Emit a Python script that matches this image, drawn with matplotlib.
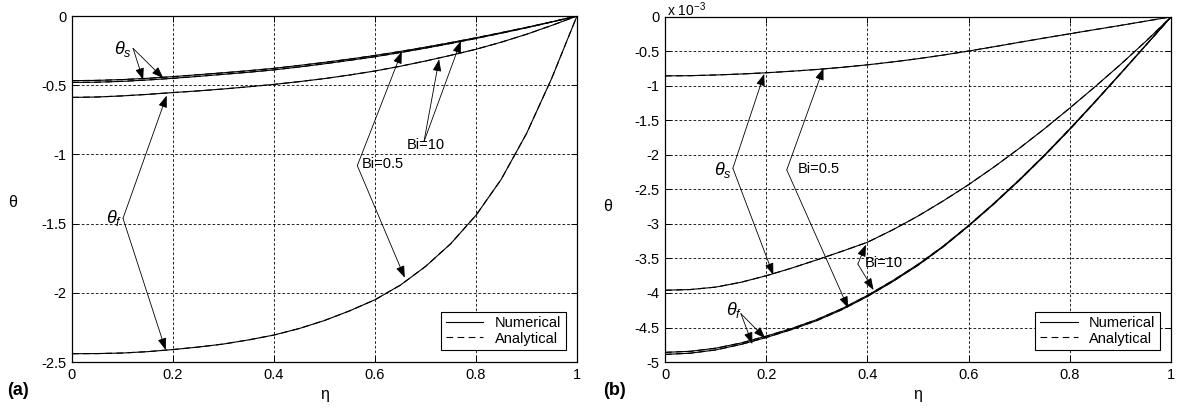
import matplotlib
matplotlib.use('Agg')
import matplotlib.pyplot as plt
from matplotlib.lines import Line2D

plt.rcParams['font.family'] = ['Liberation Sans', 'DejaVu Sans']
plt.rcParams['mathtext.fontset'] = 'custom'
plt.rcParams['mathtext.it'] = 'Liberation Sans:italic'
plt.rcParams['mathtext.rm'] = 'Liberation Sans'

# dimensionless position across the channel
ETA = [0.0, 0.05, 0.1, 0.15, 0.2, 0.25, 0.3, 0.35, 0.4, 0.45, 0.5,
       0.55, 0.6, 0.65, 0.7, 0.75, 0.8, 0.85, 0.9, 0.95, 1.0]

# (a) temperature profiles
A_THETA_S_BI05 = [-0.467, -0.465, -0.459, -0.450, -0.438, -0.424, -0.410,
                  -0.395, -0.378, -0.357, -0.335, -0.311, -0.285, -0.256,
                  -0.225, -0.192, -0.157, -0.120, -0.082, -0.042, 0.0]
A_THETA_S_BI10 = [-0.480, -0.478, -0.472, -0.462, -0.450, -0.436, -0.421,
                  -0.406, -0.389, -0.368, -0.345, -0.320, -0.294, -0.264,
                  -0.232, -0.198, -0.162, -0.124, -0.085, -0.043, 0.0]
A_THETA_F_BI10 = [-0.588, -0.585, -0.577, -0.566, -0.553, -0.541, -0.527,
                  -0.511, -0.494, -0.474, -0.452, -0.426, -0.397, -0.363,
                  -0.325, -0.284, -0.240, -0.189, -0.132, -0.068, 0.0]
A_THETA_F_BI05 = [-2.440, -2.439, -2.435, -2.425, -2.410, -2.392, -2.370,
                  -2.340, -2.305, -2.258, -2.200, -2.130, -2.050, -1.945,
                  -1.810, -1.645, -1.440, -1.180, -0.850, -0.450, 0.0]

# (b) temperature profiles, x 10^-3
B_THETA_S_BI05 = [-0.855, -0.852, -0.842, -0.828, -0.810, -0.788, -0.762,
                  -0.731, -0.695, -0.653, -0.606, -0.553, -0.495, -0.433,
                  -0.369, -0.306, -0.245, -0.184, -0.124, -0.062, 0.0]
B_THETA_S_BI10 = [-3.960, -3.950, -3.915, -3.845, -3.750, -3.640, -3.520,
                  -3.395, -3.265, -3.085, -2.885, -2.665, -2.430, -2.175,
                  -1.905, -1.620, -1.320, -1.010, -0.690, -0.355, 0.0]
B_THETA_F_BI10 = [-4.860, -4.845, -4.800, -4.725, -4.625, -4.515, -4.385,
                  -4.225, -4.035, -3.820, -3.585, -3.320, -3.020, -2.700,
                  -2.360, -2.000, -1.620, -1.225, -0.820, -0.410, 0.0]
B_THETA_F_BI05 = [-4.890, -4.872, -4.825, -4.745, -4.645, -4.530, -4.400,
                  -4.240, -4.050, -3.835, -3.598, -3.330, -3.030, -2.710,
                  -2.370, -2.010, -1.630, -1.232, -0.825, -0.413, 0.0]

X_TICKS = [0, 0.2, 0.4, 0.6, 0.8, 1]
X_TICK_LABELS = ['0', '0.2', '0.4', '0.6', '0.8', '1']
A_Y_TICKS = [0, -0.5, -1, -1.5, -2, -2.5]
A_Y_TICK_LABELS = ['0', '-0.5', '-1', '-1.5', '-2', '-2.5']
B_Y_TICKS = [0, -0.5, -1, -1.5, -2, -2.5, -3, -3.5, -4, -4.5, -5]
B_Y_TICK_LABELS = ['0', '-0.5', '-1', '-1.5', '-2', '-2.5', '-3', '-3.5',
                   '-4', '-4.5', '-5']

GRID_DASH = (0, (3.2, 2.4))
ANALYTICAL_DASH = (0, (6, 4))


def draw_panel(ax, curves, yticks, yticklabels):
    '''
    Numerical (solid) and analytical (dashed) profiles with a dashed grid.
    '''
    for theta in curves:
        ax.plot(ETA, theta, color='k', lw=0.8, ls='-')
        ax.plot(ETA, theta, color='k', lw=0.8, ls=ANALYTICAL_DASH)
    ax.set_xlim(0, 1)
    ax.set_ylim(yticks[-1], yticks[0])
    ax.set_xticks(X_TICKS)
    ax.set_xticklabels(X_TICK_LABELS)
    ax.set_yticks(yticks)
    ax.set_yticklabels(yticklabels)
    ax.tick_params(direction='in', length=4, width=0.7, labelsize=10.5,
                   top=True, right=True, pad=4)
    ax.grid(True, color='k', lw=0.6, ls=GRID_DASH)
    for spine in ax.spines.values():
        spine.set_linewidth(0.9)
    ax.set_xlabel('η', fontsize=11.5, labelpad=4)
    ax.set_ylabel('θ', fontsize=11.5, rotation=0, va='center', ha='center')

    handles = [Line2D([], [], color='k', lw=0.8, ls='-'),
               Line2D([], [], color='k', lw=0.8, ls=ANALYTICAL_DASH)]
    leg = ax.legend(handles, ['Numerical', 'Analytical'], loc='lower right',
                    bbox_to_anchor=(0.978, 0.035), borderaxespad=0,
                    fontsize=10.5, fancybox=False, framealpha=1,
                    handlelength=2.6, handletextpad=0.8, labelspacing=0.1,
                    borderpad=0.3)
    leg.get_frame().set_edgecolor('k')
    leg.get_frame().set_linewidth(0.8)


def callout(ax, label, text_xy, ha, vertex, tips, fontsize=10.5):
    '''
    Label with bent leader lines ending in arrows on the curves.
    '''
    ax.text(text_xy[0], text_xy[1], label, ha=ha, va='center',
            fontsize=fontsize)
    for tip in tips:
        ax.annotate('', xy=tip, xytext=vertex,
                    arrowprops=dict(arrowstyle='-|>,head_length=0.6,head_width=0.22',
                                    color='k', lw=0.6, shrinkA=0, shrinkB=0,
                                    mutation_scale=12))


if __name__ == "__main__":
    fig = plt.figure(figsize=(11.84, 4.08), dpi=100)
    ax_a = fig.add_axes([0.0608, 0.1127, 0.4265, 0.848])
    ax_b = fig.add_axes([0.5617, 0.1127, 0.4274, 0.846])

    draw_panel(ax_a, [A_THETA_S_BI05, A_THETA_S_BI10, A_THETA_F_BI10,
                      A_THETA_F_BI05], A_Y_TICKS, A_Y_TICK_LABELS)
    draw_panel(ax_b, [B_THETA_S_BI05, B_THETA_S_BI10, B_THETA_F_BI10,
                      B_THETA_F_BI05], B_Y_TICKS, B_Y_TICK_LABELS)
    ax_a.yaxis.set_label_coords(-0.118, 0.462)
    ax_b.yaxis.set_label_coords(-0.114, 0.452)

    # (a) callouts
    callout(ax_a, r'$\theta_s$', (0.119, -0.235), 'right', (0.121, -0.234),
            [(0.141, -0.462), (0.181, -0.450)], fontsize=13)
    callout(ax_a, r'$\theta_f$', (0.099, -1.46), 'right', (0.101, -1.462),
            [(0.1875, -0.575), (0.1855, -2.413)], fontsize=13)
    callout(ax_a, 'Bi=0.5', (0.574, -1.07), 'left', (0.565, -1.081),
            [(0.653, -0.258), (0.659, -1.891)])
    callout(ax_a, 'Bi=10', (0.663, -0.935), 'left', (0.697, -0.908),
            [(0.727, -0.313), (0.770, -0.181)])

    # (b) callouts
    callout(ax_b, r'$\theta_s$', (0.132, -2.22), 'right', (0.134, -2.193),
            [(0.196, -0.826), (0.214, -3.739)], fontsize=13)
    callout(ax_b, 'Bi=0.5', (0.262, -2.20), 'left', (0.2405, -2.217),
            [(0.313, -0.744), (0.362, -4.22)])
    callout(ax_b, 'Bi=10', (0.394, -3.565), 'left', (0.381, -3.58),
            [(0.397, -3.30), (0.412, -3.957)])
    callout(ax_b, r'$\theta_f$', (0.152, -4.25), 'right', (0.150, -4.30),
            [(0.1725, -4.74), (0.198, -4.657)], fontsize=13)

    fig.text(0.5635, 0.961, r'x 10$^{-3}$', fontsize=10, va='baseline')
    fig.text(0.006, 0.044, '(a)', fontsize=13, fontweight='bold', va='center')
    fig.text(0.509, 0.044, '(b)', fontsize=13, fontweight='bold', va='center')

    fig.savefig('out.png', dpi=100)
